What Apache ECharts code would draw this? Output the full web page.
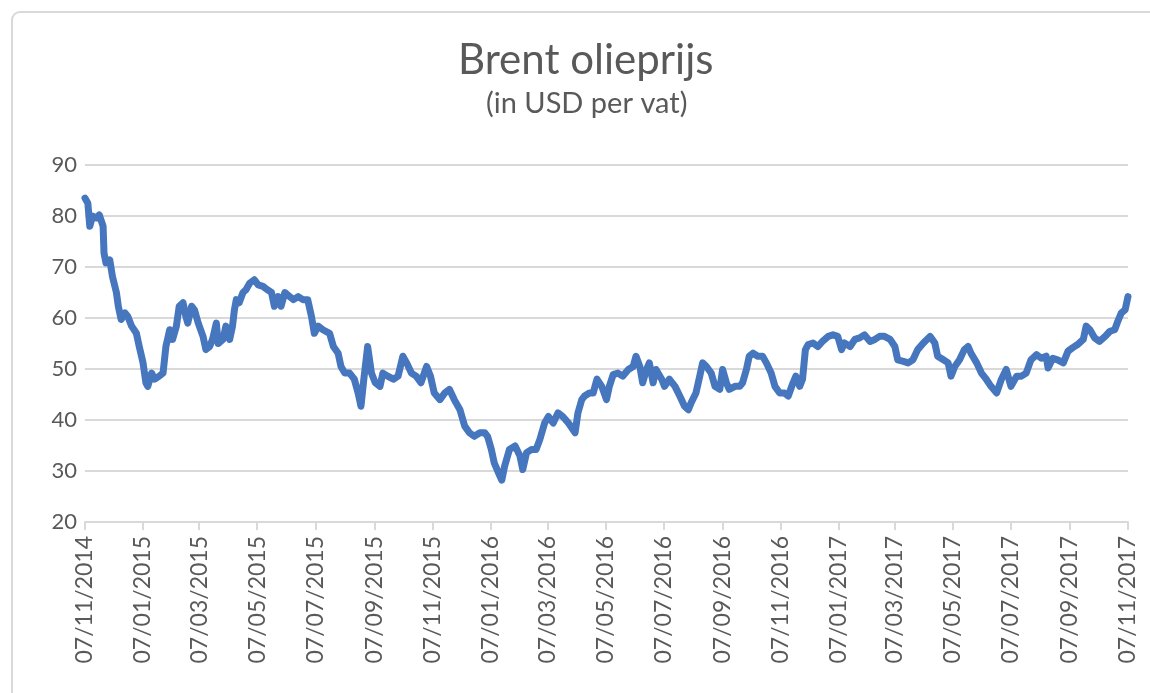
<!DOCTYPE html>
<html>

<head>
    <meta charset="utf-8" />
    <title>Brent olieprijs</title>
    <script src="https://cdn.jsdelivr.net/npm/echarts@6/dist/echarts.min.js"></script>
    <style>
        html, body { margin: 0; padding: 0; background: #fff; }
        #main { width: 1150px; height: 693px; }
    </style>
</head>

<body>
    <div id="main"></div>
    <script type="text/javascript">
        // startdatum van de reeks
        var startDate = '07/11/2014';

        // aantal dagen sinds startdatum
        var dayOffsets = [
            0, 3, 5, 8, 12, 15, 19, 20, 22, 26, 29, 33, 35, 38, 42, 45, 49, 54, 57, 61,
            64, 66, 70, 73, 78, 82, 85, 89, 92, 96, 99, 103, 106, 108, 112, 115, 119, 124, 127, 131,
            134, 138, 140, 145, 148, 152, 155, 157, 159, 162, 166, 169, 173, 178, 182, 187, 192, 196, 199, 203,
            206, 210, 215, 219, 224, 229, 234, 238, 241, 245, 250, 257, 261, 266, 269, 273, 278, 283, 287, 290,
            293, 297, 301, 305, 310, 313, 318, 324, 329, 334, 338, 343, 348, 353, 359, 363, 367, 373, 378, 383,
            388, 394, 399, 404, 409, 415, 420, 423, 427, 430, 436, 438, 441, 446, 452, 457, 460, 464, 469, 474,
            478, 483, 487, 492, 497, 502, 508, 515, 518, 522, 525, 530, 534, 538, 543, 548, 551, 555, 560, 565,
            571, 576, 579, 583, 586, 590, 593, 597, 600, 606, 609, 614, 620, 625, 630, 634, 637, 642, 646, 649,
            653, 658, 662, 667, 670, 674, 677, 683, 688, 691, 695, 698, 702, 707, 712, 716, 721, 725, 730, 735,
            739, 744, 747, 751, 754, 757, 760, 765, 770, 775, 781, 786, 791, 795, 798, 804, 809, 814, 819, 825,
            830, 835, 840, 846, 851, 854, 860, 865, 870, 875, 881, 888, 893, 896, 902, 907, 910, 914, 919, 924,
            928, 931, 937, 942, 947, 952, 958, 963, 968, 973, 979, 984, 989, 994, 1000, 1005, 1010, 1012, 1017, 1022,
            1028, 1033, 1038, 1043, 1049, 1052, 1056, 1061, 1066, 1072, 1077, 1082, 1086, 1089, 1093, 1096
        ];

        // Brent prijs in USD per vat
        var prices = [
            83.5, 82.5, 78, 80, 79.6, 80.2, 78, 72.7, 70.8, 71.4, 68, 65, 62.3, 59.7, 61, 60.3, 58.4, 57, 54.4, 51.2,
            47.3, 46.6, 49.2, 48, 48.6, 49.2, 54.4, 57.7, 55.8, 58.4, 62.3, 63, 60.3, 59, 62.3, 61.6, 59, 56.4, 53.8, 54.4,
            55.8, 59, 55, 55.8, 58.4, 55.8, 58.4, 61.6, 63.6, 63, 65, 65.5, 66.8, 67.5, 66.5, 66.2, 65.5, 65, 62.3, 64.2,
            62.3, 65, 64.2, 63.6, 64.2, 63.6, 63.6, 60.3, 57, 58.4, 57.7, 57, 54.4, 53.1, 50.5, 49.2, 49.2, 48, 45.3, 42.7,
            48, 54.4, 49.2, 47.3, 46.6, 49.2, 48.6, 48, 48.6, 52.5, 51.2, 49.2, 48.6, 47.3, 50.5, 48.6, 45.3, 44, 45.3, 46,
            44, 42, 38.8, 37.5, 36.8, 37.5, 37.5, 36.8, 34.2, 31.6, 29, 28.2, 31, 34.2, 34.9, 33, 30.3, 33.6, 34.2, 34.2,
            36.2, 39.4, 40.7, 39.4, 41.4, 40.7, 39.4, 37.5, 41.4, 44, 44.7, 45.3, 45.3, 48, 46.6, 44, 46.6, 48.9, 49.2, 48.6,
            49.9, 50.5, 52.5, 50.5, 47.3, 49.9, 51.2, 47.3, 49.9, 48, 46.6, 48, 46.6, 44.7, 42.7, 42, 43.4, 45.3, 48.6, 51.2,
            50.5, 49.2, 46.6, 46, 49.9, 47.3, 46, 46.6, 46.6, 47.3, 49.9, 52.5, 53.1, 52.5, 52.5, 51.2, 49.2, 46.6, 45.3, 45.3,
            44.7, 47.3, 48.6, 46.6, 48, 53.8, 54.8, 55.1, 54.4, 55.4, 56.4, 56.7, 56.4, 53.8, 55.1, 54.4, 55.8, 56.1, 56.7, 55.4,
            55.8, 56.4, 56.4, 55.8, 54.4, 51.8, 51.5, 51.2, 51.8, 53.8, 55.1, 56.4, 55.1, 52.5, 51.8, 51.2, 48.6, 50.5, 51.8, 53.8,
            54.4, 53.1, 51.2, 49.2, 48, 46.6, 45.3, 48, 49.9, 46.6, 48.6, 48.6, 49.2, 51.8, 52.8, 52.1, 52.5, 50.2, 52.1, 51.8,
            51.2, 53.5, 54.2, 54.8, 55.8, 58.4, 57.7, 56.1, 55.4, 56.4, 57.4, 57.7, 59.7, 61, 61.6, 64.2
        ];

        // labels op de x-as
        var tickLabels = [
            '07/11/2014', '07/01/2015', '07/03/2015', '07/05/2015', '07/07/2015', '07/09/2015', '07/11/2015',
            '07/01/2016', '07/03/2016', '07/05/2016', '07/07/2016', '07/09/2016', '07/11/2016',
            '07/01/2017', '07/03/2017', '07/05/2017', '07/07/2017', '07/09/2017', '07/11/2017'
        ];

        function parseDate(s) {
            var p = s.split('/');
            return new Date(+p[2], +p[1] - 1, +p[0]).getTime();
        }
        function pad(n) { return n < 10 ? '0' + n : '' + n; }

        var DAY = 24 * 3600 * 1000;
        var start = parseDate(startDate);
        var tickValues = tickLabels.map(parseDate);
        var seriesData = dayOffsets.map(function (d, i) {
            return [start + d * DAY, prices[i]];
        });

        var myChart = echarts.init(document.getElementById('main'));
        var textColor = '#595959';
        var font = 'Lato, "Noto Sans", sans-serif';

        var option = {
            backgroundColor: '#fff',
            animation: false,
            graphic: [{
                type: 'rect',
                shape: { x: 12, y: 12, width: 1170, height: 720, r: 8 },
                style: { fill: 'none', stroke: '#d9d9d9', lineWidth: 2 },
                silent: true
            }],
            title: [{
                text: 'Brent olieprijs',
                left: 458,
                top: 39,
                padding: 0,
                textAlign: 'left',
                textStyle: { fontFamily: font, fontSize: 42, fontWeight: 'normal', color: textColor }
            }, {
                text: '(in USD per vat)',
                left: 486,
                top: 89,
                padding: 0,
                textAlign: 'left',
                textStyle: { fontFamily: font, fontSize: 29, fontWeight: 'normal', color: textColor }
            }],
            grid: {
                left: 85,
                right: 22,
                top: 165,
                bottom: 171
            },
            xAxis: {
                type: 'value',
                min: tickValues[0],
                max: tickValues[tickValues.length - 1],
                axisLine: { show: true, lineStyle: { color: '#d9d9d9', width: 2 } },
                axisTick: { show: true, customValues: tickValues, length: 8, lineStyle: { color: '#d9d9d9', width: 2 } },
                axisLabel: {
                    customValues: tickValues,
                    rotate: 90,
                    margin: 14,
                    fontFamily: font,
                    fontSize: 23,
                    color: textColor,
                    formatter: function (v) {
                        var d = new Date(v);
                        return pad(d.getDate()) + '/' + pad(d.getMonth() + 1) + '/' + d.getFullYear();
                    }
                },
                splitLine: { show: false }
            },
            yAxis: {
                type: 'value',
                min: 20,
                max: 90,
                interval: 10,
                axisLine: { show: false },
                axisTick: { show: false },
                axisLabel: { fontFamily: font, fontSize: 22, color: textColor, margin: 8 },
                splitLine: { lineStyle: { color: '#d9d9d9', width: 2 } }
            },
            series: [{
                name: 'Brent',
                type: 'line',
                showSymbol: false,
                data: seriesData,
                lineStyle: { color: '#4676BE', width: 7, join: 'round', cap: 'round' }
            }]
        };

        myChart.setOption(option);
    </script>
</body>

</html>
